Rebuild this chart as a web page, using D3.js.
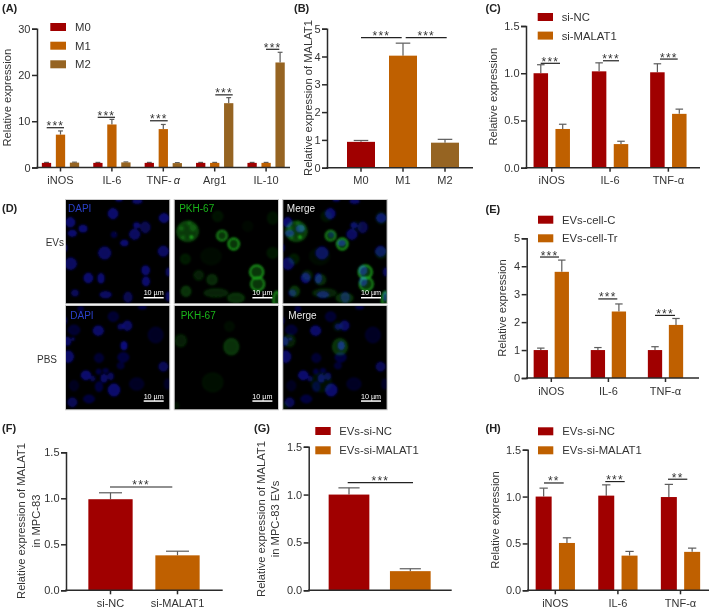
<!DOCTYPE html>
<html><head><meta charset="utf-8">
<script src="https://cdn.jsdelivr.net/npm/d3@7"></script>
<style>
html,body{margin:0;padding:0;background:#fff}
svg{display:block}
text{font-family:"Liberation Sans",Arial,sans-serif;fill:#333}
</style></head><body><svg id="c" width="709" height="611"></svg>
<script>
// ---------- data ----------
const macroCats = ["iNOS","IL-6","TNF-α","Arg1","IL-10"];
const macroSeries = ["M0","M1","M2"];
const aM0 = [1,1,1,1,1], aM1 = [7.1,9.3,8.3,1,1], aM2 = [1.05,1.1,.95,13.9,22.7];
const aM0e = [.1,.1,.1,.1,.1], aM1e = [.8,1.1,1.0,.1,.1], aM2e = [.1,.1,.1,1.2,2.2];
const aSig = [8.6,10.85,10.1,15.7,25.55];

const bCats = ["M0","M1","M2"];
const bVals = [.93,4.03,.9], bErr = [.05,.45,.12];

const threeCats = ["iNOS","IL-6","TNF-α"];
const cNC = [1,1.02,1.01], cKD = [.41,.25,.57], cNCe = [.09,.09,.09], cKDe = [.05,.03,.05];
const cSig = [1.105,1.132,1.15];
const eC = [1,1,1], eTr = [3.8,2.38,1.9], eCe = [.07,.09,.12], eTre = [.42,.27,.23];
const eSig = [4.33,2.83,2.24];
const fCats = ["si-NC","si-MALAT1"];
const fVals = [.99,.38], fErr = [.07,.045];
const gCats = ["EVs-si-NC","EVs-si-MALAT1"];
const gVals = [1,.2], gErr = [.07,.025];
const hNC = [1,1.01,.995], hKD = [.505,.37,.41], hNCe = [.09,.115,.135], hKDe = [.055,.045,.04];
const hSig = [1.145,1.16,1.185];
const hStars = ["**","***","**"];

// micrograph features: [x, y, rx, ry, intensity]
const dapiEV = [[141,41,14,15,.9],[13,67,13,14,.9],[294,54,14,13,.9],[19,100,12,9,.9],[51,86,12,10,.9],[144,104,8,8,.5],[212,76,9,8,.85],[238,82,14,16,.65],[206,103,15,15,.8],[175,129,11,8,.9],[116,159,18,18,.8],[292,154,15,15,.8],[-2,144,4,10,.8],[14,191,17,17,.8],[67,234,13,14,.9],[105,235,9,14,.9],[239,211,11,13,.9],[240,244,10,13,.9],[27,279,10,9,.7],[119,284,17,9,.8],[186,292,12,15,.65],[307,216,6,12,.7],[159,-1,10,4,.8],[214,4,14,6,.8],[306,289,5,14,.8]];
const pkhEV = [[39,94,32,30,.6],[50,111,3,3,1],[20,85,6,6,.45],[55,84,8,8,.45],[25,112,5,5,.45],[44,70,6,6,.4],[142,107,15,15,.8],[177,132,16,17,1],[246,216,20,20,1],[249,252,20,20,.9],[32,177,14,14,.25],[34,274,14,15,.5],[72,226,14,14,.3],[112,239,15,15,.4],[109,169,30,25,.1],[129,49,15,15,.18],[294,54,15,18,.18],[294,159,16,16,.22],[124,279,35,12,.35],[184,294,25,14,.45],[306,300,10,25,.9],[219,79,15,15,.08]];
const dapiPBS = [[24,72,17,14,.4],[97,74,15,14,.85],[142,32,15,14,.4],[164,62,8,8,.7],[184,59,13,14,.8],[269,87,22,23,.3],[4,106,10,12,.8],[21,99,4,4,.7],[174,119,9,12,1],[7,152,15,17,.85],[99,156,13,13,.4],[172,154,16,14,.5],[164,179,10,9,.4],[60,208,14,13,.9],[80,218,7,7,.6],[98,197,7,7,.5],[114,217,9,12,.8],[134,211,8,10,.7],[119,194,8,6,.5],[292,182,13,13,.7],[212,234,21,18,.3],[144,252,17,18,.9],[99,242,10,14,.5],[24,239,13,15,.25],[19,289,13,13,.7],[69,279,16,11,.5],[229,4,12,5,.5],[44,9,8,8,.5],[-3,44,5,10,.6],[304,234,8,15,.3]];
const pkhPBS = [[18,104,17,18,.3],[170,122,22,24,.5],[164,61,14,14,.12],[114,229,30,28,.15],[4,299,8,8,.15]];

// ---------- palette & layout ----------
const RED="#a00000", ORG="#bf6000", BRN="#966422", AXIS="#2a2a2a", ERR="#5c5c5c";
const svg = d3.select("#c");
const defs = svg.append("defs");
defs.append("filter").attr("id","soft").attr("x","-30%").attr("y","-30%").attr("width","160%").attr("height","160%")
  .append("feGaussianBlur").attr("stdDeviation",1);

function panelLabel(t,x,y){
  svg.append("text").attr("x",x).attr("y",y).attr("font-size",11).attr("font-weight","bold").style("fill","#222").text(t);
}

function chart(o){
  const g = svg.append("g");
  const y = d3.scaleLinear().domain([0,o.yMax]).range([o.y0,o.yTop]);
  const n = o.groups.length;
  const x0 = d3.scaleBand().domain(o.groups)
      .range([o.first-o.step/2, o.first-o.step/2+o.step*n]);
  const x1 = d3.scaleBand().domain(d3.range(o.values.length))
      .range([-o.barStep*o.values.length/2, o.barStep*o.values.length/2]);
  const cx = (gi,si)=>x0(o.groups[gi])+o.step/2+x1(si)+x1.bandwidth()/2;

  o.values.forEach((vals,si)=>{
    const rows = vals.map((v,i)=>({v,e:o.errors[si][i],cx:cx(i,si),
        col:o.colorByGroup?o.colors[i]:o.colors[si]}));
    const s = g.append("g");
    const ew = o.barW*.26;
    s.selectAll("line.e").data(rows).join("line").attr("class","e").attr("x1",d=>d.cx).attr("x2",d=>d.cx)
      .attr("y1",d=>y(d.v)).attr("y2",d=>y(d.v+d.e)).attr("stroke",ERR).attr("stroke-width",1.2);
    s.selectAll("line.c").data(rows).join("line").attr("class","c").attr("x1",d=>d.cx-ew).attr("x2",d=>d.cx+ew)
      .attr("y1",d=>y(d.v+d.e)).attr("y2",d=>y(d.v+d.e)).attr("stroke",ERR).attr("stroke-width",1.2);
    s.selectAll("rect").data(rows).join("rect").attr("x",d=>d.cx-o.barW/2).attr("width",o.barW)
      .attr("y",d=>y(d.v)).attr("height",d=>o.y0-y(d.v)).attr("fill",d=>d.col);
  });

  // axes
  const ya = g.append("g").attr("transform",`translate(${o.axisX},0)`)
    .call(d3.axisLeft(y).tickValues(o.yTicks).tickFormat(d3.format(o.yFmt)).tickSize(5).tickPadding(1.5));
  const axes=[ya];
  if(!o.noXLabels){
    const xa = g.append("g").attr("transform",`translate(0,${o.y0})`)
      .call(d3.axisBottom(x0).tickSize(4).tickPadding(5));
    xa.select(".domain").remove();
    axes.push(xa);
    if(o.italicAlpha){
      xa.selectAll("text").filter(d=>d.includes("α")).each(function(d){
        const t=d3.select(this).text(d.replace("α","\u2009"));
        t.append("tspan").attr("font-style","italic").text("α");
      });
    }
  }
  g.append("line").attr("x1",o.axisX-.75).attr("x2",o.xEnd).attr("y1",o.y0).attr("y2",o.y0)
    .attr("stroke",AXIS).attr("stroke-width",1.5);
  axes.forEach(a=>{
    a.selectAll(".domain,line").attr("stroke",AXIS).attr("stroke-width",1.5);
    a.selectAll("text").attr("font-size",11).attr("font-family",'"Liberation Sans",Arial,sans-serif').style("fill","#333");
  });

  // y title
  o.yTitle.forEach((line,i)=>{
    g.append("text").attr("transform",`translate(${o.titleX[i]},${o.titleY}) rotate(-90)`)
      .attr("text-anchor","middle").attr("dominant-baseline","central").attr("font-size",11.2).text(line);
  });

  // legend
  (o.legend||[]).forEach((t,i)=>{
    g.append("rect").attr("x",o.legX).attr("y",o.legY[i]-4).attr("width",o.legW).attr("height",8).attr("fill",o.legColors[i]);
    g.append("text").attr("x",o.legTextX).attr("y",o.legY[i]).attr("dominant-baseline","central").attr("font-size",11.3).text(t);
  });

  // significance
  o.sig.forEach(s=>{
    const ly=y(s.level);
    g.append("line").attr("x1",s.x[0]).attr("x2",s.x[1]).attr("y1",ly).attr("y2",ly).attr("stroke","#222").attr("stroke-width",1.2);
    g.append("text").attr("x",(s.x[0]+s.x[1])/2).attr("y",ly+2.5).attr("text-anchor","middle")
      .attr("font-size",12).attr("letter-spacing",1.2).style("fill","#333").text(s.t);
  });
}

// ---------- panels ----------
chart({groups:macroCats,values:[aM0,aM1,aM2],errors:[aM0e,aM1e,aM2e],colors:[RED,ORG,BRN],italicAlpha:true,
  yMax:30,yTicks:[0,10,20,30],yFmt:"d",axisX:37,xEnd:290,y0:167.5,yTop:28.7,first:60.5,step:51.4,barStep:14,barW:9.3,
  yTitle:["Relative expression"],titleX:[6.5],titleY:97.7,
  legend:macroSeries,legX:50.3,legW:15.7,legY:[27,45.7,64.3],legTextX:75,legColors:[RED,ORG,BRN],
  sig:[[46.7,64],[97.7,115],[150,167.7],[215.3,232.7],[266,279.3]].map((x,i)=>({x,level:aSig[i],t:"***"}))});
panelLabel("(A)",2,12);

chart({groups:bCats,values:[bVals],errors:[bErr],colors:[RED,ORG,BRN],colorByGroup:true,
  yMax:5,yTicks:[0,1,2,3,4,5],yFmt:"d",axisX:327,xEnd:473,y0:167.7,yTop:28.7,first:361,step:42,barStep:42,barW:28,
  yTitle:["Relative expression of MALAT1"],titleX:[308],titleY:98,
  sig:[{x:[361,401.7],level:4.68,t:"***"},{x:[405.7,446.7],level:4.68,t:"***"}]});
panelLabel("(B)",294,12);

chart({groups:threeCats,values:[cNC,cKD],errors:[cNCe,cKDe],colors:[RED,ORG],
  yMax:1.5,yTicks:[0,.5,1,1.5],yFmt:".1f",axisX:526,xEnd:700,y0:167.7,yTop:26,first:551.75,step:58.3,barStep:21.9,barW:14.5,
  yTitle:["Relative expression"],titleX:[492.7],titleY:96.7,
  legend:["si-NC","si-MALAT1"],legX:537.7,legW:15.3,legY:[17,35.6],legTextX:561.7,legColors:[RED,ORG],
  sig:[[540.7,560],[603,619],[660,677.7]].map((x,i)=>({x,level:cSig[i],t:"***"}))});
panelLabel("(C)",485.5,12);

chart({groups:threeCats,values:[eC,eTr],errors:[eCe,eTre],colors:[RED,ORG],
  yMax:5,yTicks:[0,1,2,3,4,5],yFmt:"d",axisX:526.7,xEnd:699,y0:378,yTop:238.3,first:551.3,step:57.1,barStep:21,barW:14.3,
  yTitle:["Relative expression"],titleX:[501.7],titleY:308,
  legend:["EVs-cell-C","EVs-cell-Tr"],legX:538,legW:15.3,legY:[219.7,238.3],legTextX:562,legColors:[RED,ORG],
  sig:[[540,559],[598.3,617.3],[655,675]].map((x,i)=>({x,level:eSig[i],t:"***"}))});
panelLabel("(E)",485.5,213);

chart({groups:fCats,values:[fVals],errors:[fErr],colors:[RED,ORG],colorByGroup:true,
  yMax:1.5,yTicks:[0,.5,1,1.5],yFmt:".1f",axisX:66,xEnd:222.7,y0:590.3,yTop:452.3,first:110.5,step:67,barStep:67,barW:44.3,
  yTitle:["Relative expression of MALAT1","in MPC-83"],titleX:[21,36],titleY:521,
  sig:[{x:[110,172.3],level:1.123,t:"***"}]});
panelLabel("(F)",2,432);

chart({groups:gCats,values:[gVals],errors:[gErr],colors:[RED,ORG],colorByGroup:true,noXLabels:true,
  yMax:1.5,yTicks:[0,.5,1,1.5],yFmt:".1f",axisX:308.7,xEnd:451.7,y0:590.3,yTop:446.7,first:349,step:61.3,barStep:61.3,barW:40.7,
  yTitle:["Relative expression of MALAT1","in MPC-83 EVs"],titleX:[260.7,275],titleY:519,
  legend:gCats,legX:315.3,legW:15.4,legY:[431,450.3],legTextX:339.3,legColors:[RED,ORG],
  sig:[{x:[347.7,413],level:1.124,t:"***"}]});
panelLabel("(G)",254,432);

chart({groups:threeCats,values:[hNC,hKD],errors:[hNCe,hKDe],colors:[RED,ORG],
  yMax:1.5,yTicks:[0,.5,1,1.5],yFmt:".1f",axisX:527.7,xEnd:709,y0:590.3,yTop:449.7,first:555.3,step:62.6,barStep:23.3,barW:16,
  yTitle:["Relative expression"],titleX:[495],titleY:520,
  legend:gCats,legX:538,legW:15.3,legY:[431.3,450.3],legTextX:562.3,legColors:[RED,ORG],
  sig:[[544,563.7],[605.3,624.7],[668,687.3]].map((x,i)=>({x,level:hSig[i],t:hStars[i]}))});
panelLabel("(H)",485.5,432);

// ---------- micrographs (D) ----------
panelLabel("(D)",2,212);
const imgX=[66,174.7,283.3], imgY=[200,306], imgS=103.3;
const posX=d3.scaleLinear().domain([0,310]).range([0,imgS]);
const BLUE="#1212c4", GREEN="#1fae1f";
let clipId=0;
function blobs(g,data,col,ring){
  const k=imgS/310;
  g.append("g").attr("filter","url(#soft)").style("mix-blend-mode","screen")
   .selectAll("ellipse").data(data).join("ellipse")
   .attr("cx",d=>posX(d[0])).attr("cy",d=>posX(d[1])).attr("rx",d=>d[2]*k).attr("ry",d=>d[3]*k)
   .attr("fill",col).attr("fill-opacity",d=>ring?(d[4]>=.8?.3:d[4]*.55):d[4]*.6)
   .attr("stroke",col).attr("stroke-opacity",d=>ring?(d[4]>=.8?d[4]:d[4]*.45):d[4]*.8)
   .attr("stroke-width",ring?1.7:.9);
}
function image(col,row,label,labelCol,labelDx,blue,green){
  const x=imgX[col], y=imgY[row];
  const g=svg.append("g").attr("transform",`translate(${x},${y})`);
  const id="clip"+(clipId++);
  defs.append("clipPath").attr("id",id).append("rect").attr("width",imgS).attr("height",imgS);
  g.append("rect").attr("x",-.5).attr("y",-.5).attr("width",imgS+1).attr("height",imgS+1).attr("fill","#000").attr("stroke","#ccc").attr("stroke-width",1);
  const inner=g.append("g").attr("clip-path",`url(#${id})`).style("isolation","isolate");
  if(blue) blobs(inner,blue,BLUE,false);
  if(green) blobs(inner,green,GREEN,true);
  g.append("text").attr("x",labelDx).attr("y",row?9:8).attr("dominant-baseline","central").attr("font-size",10).style("fill",labelCol).text(label);
  g.append("rect").attr("x",77.7).attr("y",row?94.3:97).attr("width",20).attr("height",1.5).attr("fill","#fff");
  g.append("text").attr("x",87.7).attr("y",row?92.5:95).attr("text-anchor","middle").attr("font-size",7.2).style("fill","#fff").text("10 µm");
}
const LAB_B="#2a40c8", LAB_G="#19b419", LAB_W="#e8e8e8";
image(0,0,"DAPI",LAB_B,2,dapiEV,null);
image(1,0,"PKH-67",LAB_G,4.5,null,pkhEV);
image(2,0,"Merge",LAB_W,3.5,dapiEV,pkhEV);
image(0,1,"DAPI",LAB_B,4.3,dapiPBS,null);
image(1,1,"PKH-67",LAB_G,6,null,pkhPBS);
image(2,1,"Merge",LAB_W,5,dapiPBS,pkhPBS);
svg.append("text").attr("x",64).attr("y",242).attr("text-anchor","end").attr("dominant-baseline","central").attr("font-size",10).text("EVs");
svg.append("text").attr("x",57).attr("y",359).attr("text-anchor","end").attr("dominant-baseline","central").attr("font-size",10).text("PBS");
</script></body></html>
